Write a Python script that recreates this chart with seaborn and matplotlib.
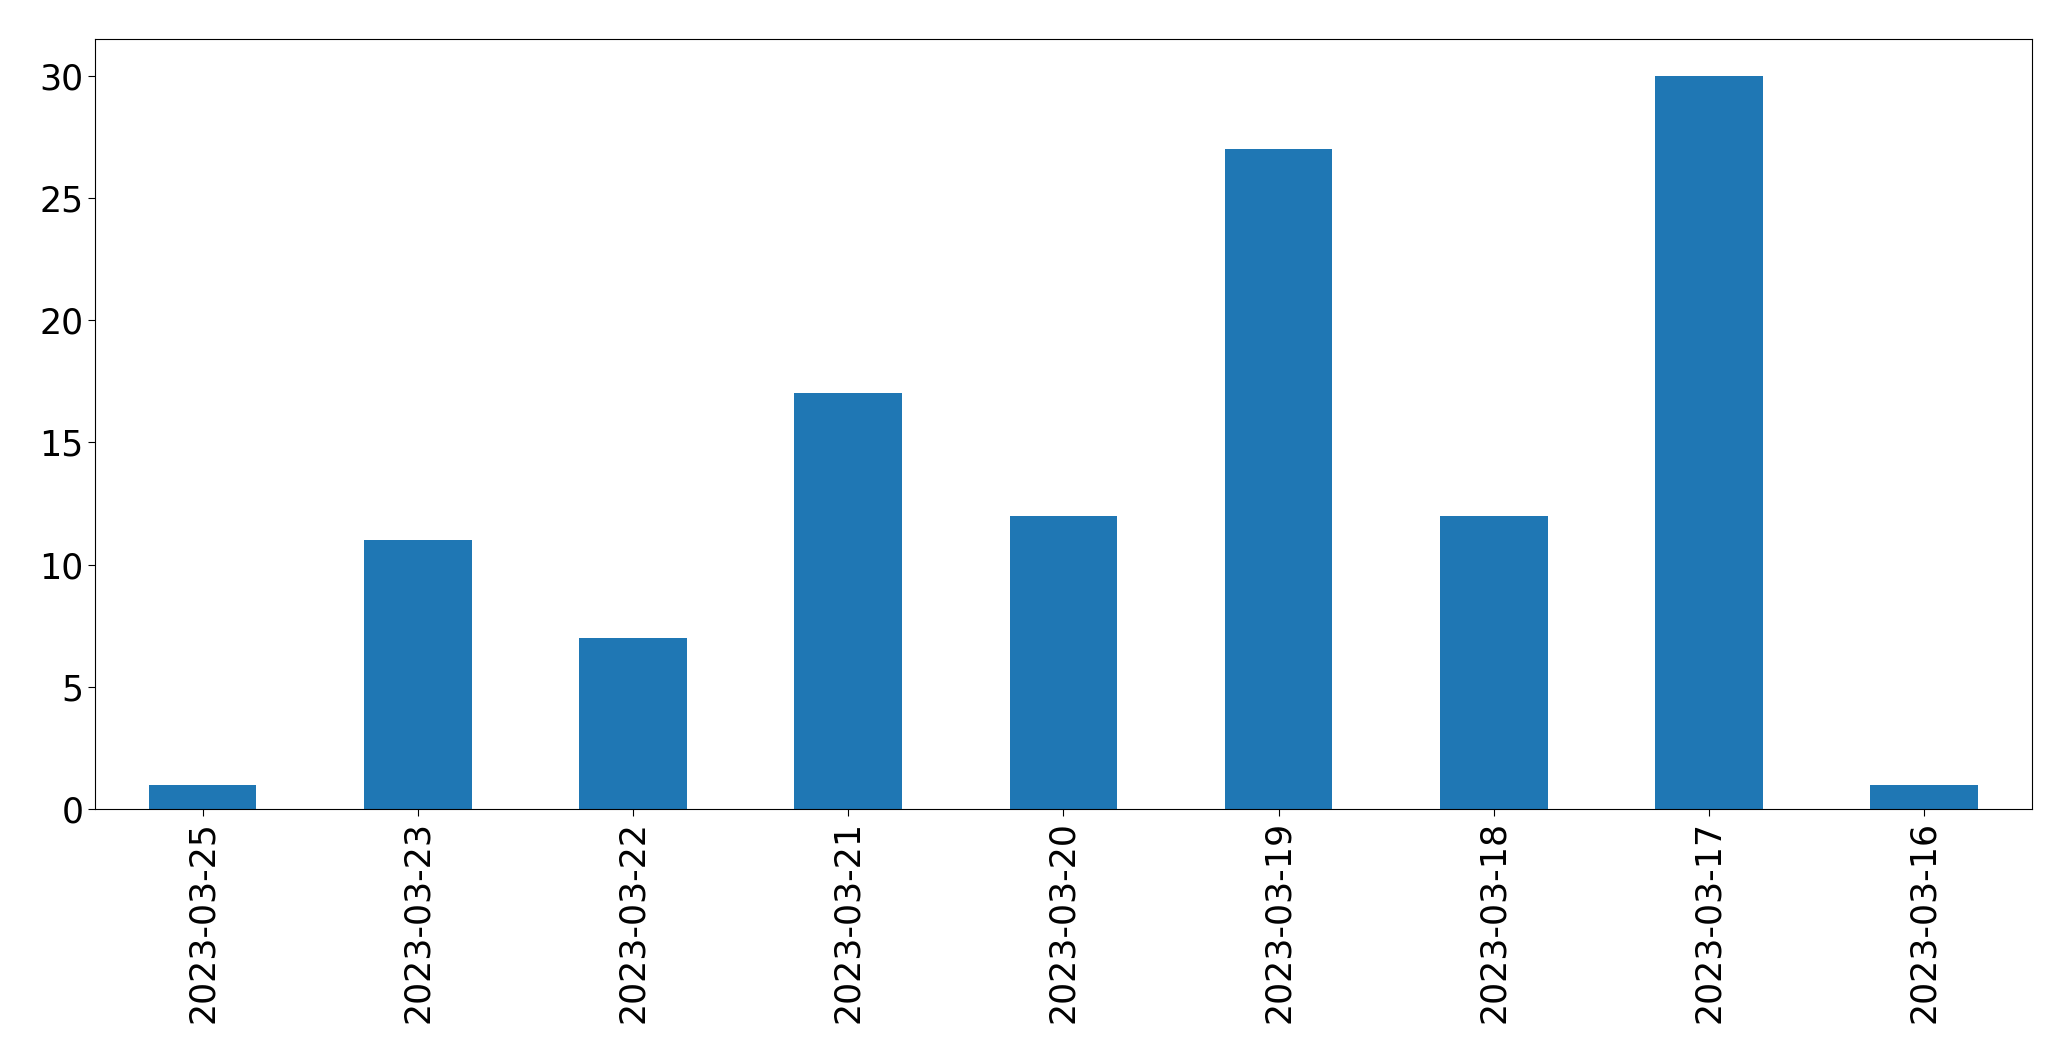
import pandas as pd
import seaborn as sns
import matplotlib.pyplot as plt

dates = ['2023-03-25', '2023-03-23', '2023-03-22', '2023-03-21', '2023-03-20',
         '2023-03-19', '2023-03-18', '2023-03-17', '2023-03-16']
counts = [1, 11, 7, 17, 12, 27, 12, 30, 1]

df = pd.DataFrame({'date': dates, 'count': counts})

fig = plt.figure(figsize=(20.71, 10.61), dpi=100)
ax = fig.add_axes([0.0459, 0.2375, 0.981 - 0.0459, 0.9632 - 0.2375])
sns.barplot(x='date', y='count', data=df, order=dates, color='#1f77b4',
            saturation=1, width=0.5, ax=ax)
ax.set_xlim(-0.5, len(dates) - 0.5)
ax.set_ylim(0, 31.5)
ax.set_xlabel('')
ax.set_ylabel('')
ax.tick_params(axis='both', labelsize=25, length=5)
ax.tick_params(axis='x', labelrotation=90)
fig.savefig('out.png', dpi=100)
